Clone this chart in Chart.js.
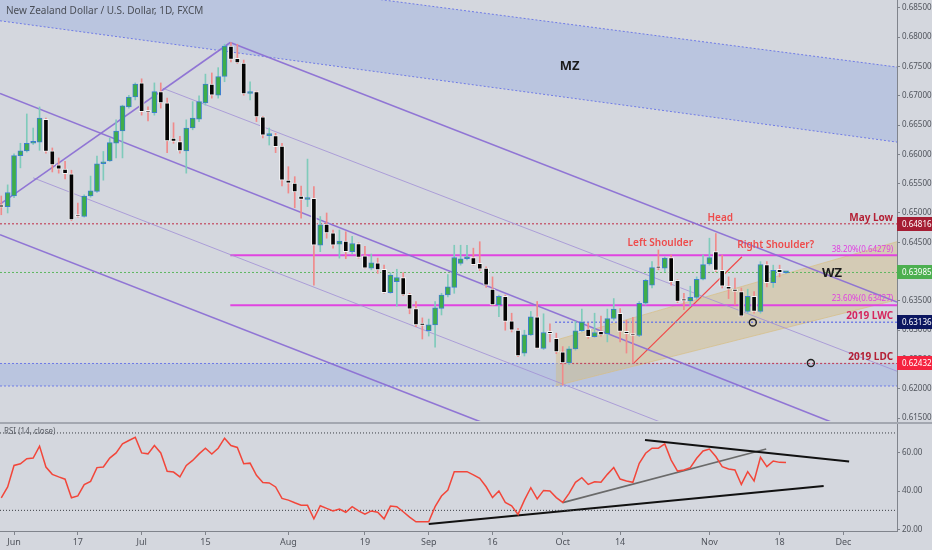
<!DOCTYPE html>
<html>
<head>
<meta charset="utf-8">
<script src="https://cdn.jsdelivr.net/npm/chart.js@4.4.1/dist/chart.umd.min.js"></script>
<style>
  html, body { margin: 0; padding: 0; background: #d4d7de; }
  #wrap { position: relative; width: 932px; height: 550px; overflow: hidden; }
  canvas { display: block; }
  #sep { height: 2px; background: #a3a7b0; }
</style>
</head>
<body>
<div id="wrap">
  <canvas id="price" width="932" height="422"></canvas>
  <div id="sep"></div>
  <canvas id="rsi" width="932" height="126"></canvas>
</div>
<script>
// NZD/USD daily, 30 May 2019 (index -2) .. 19 Nov 2019 (index 121)
const startIdx = -2;

const open = [
  0.6514, 0.6511, 0.6529, 0.6598, 0.6606, 0.6619, 0.6621, 0.6660, 0.6606, 0.6582,
  0.6575, 0.6567, 0.6497, 0.6494, 0.6529, 0.6537, 0.6584, 0.6589, 0.6619, 0.6640,
  0.6681, 0.6698, 0.6722, 0.6673, 0.6671, 0.6707, 0.6688, 0.6628, 0.6622, 0.6606,
  0.6645, 0.6660, 0.6688, 0.6720, 0.6701, 0.6733, 0.6785, 0.6764, 0.6756, 0.6704,
  0.6707, 0.6664, 0.6632, 0.6632, 0.6614, 0.6556, 0.6551, 0.6529, 0.6523, 0.6525,
  0.6445, 0.6481, 0.6466, 0.6447, 0.6452, 0.6434, 0.6448, 0.6427, 0.6406, 0.6415,
  0.6404, 0.6364, 0.6383, 0.6390, 0.6361, 0.6337, 0.6312, 0.6299, 0.6309, 0.6337,
  0.6360, 0.6373, 0.6414, 0.6422, 0.6424, 0.6414, 0.6406, 0.6370, 0.6343, 0.6358,
  0.6316, 0.6300, 0.6261, 0.6292, 0.6323, 0.6269, 0.6298, 0.6286, 0.6263, 0.6244,
  0.6268, 0.6299, 0.6302, 0.6289, 0.6298, 0.6294, 0.6320, 0.6329, 0.6298, 0.6294,
  0.6291, 0.6346, 0.6377, 0.6408, 0.6406, 0.6424, 0.6385, 0.6353, 0.6350, 0.6356,
  0.6387, 0.6413, 0.6434, 0.6402, 0.6375, 0.6370, 0.6366, 0.6332, 0.6358, 0.6332,
  0.6412, 0.6381, 0.6404, 0.6398
];
const high = [
  0.6529, 0.6548, 0.6601, 0.6619, 0.6669, 0.6645, 0.6681, 0.6662, 0.6611, 0.6594,
  0.6588, 0.6573, 0.6517, 0.6531, 0.6563, 0.6597, 0.6605, 0.6628, 0.6659, 0.6684,
  0.6701, 0.6722, 0.6729, 0.6681, 0.6722, 0.6722, 0.6696, 0.6654, 0.6631, 0.6659,
  0.6690, 0.6700, 0.6737, 0.6739, 0.6748, 0.6788, 0.6791, 0.6788, 0.6761, 0.6724,
  0.6708, 0.6665, 0.6645, 0.6636, 0.6619, 0.6579, 0.6562, 0.6546, 0.6592, 0.6545,
  0.6494, 0.6500, 0.6471, 0.6471, 0.6468, 0.6460, 0.6449, 0.6443, 0.6430, 0.6423,
  0.6411, 0.6398, 0.6404, 0.6398, 0.6363, 0.6349, 0.6321, 0.6319, 0.6349, 0.6363,
  0.6395, 0.6445, 0.6445, 0.6445, 0.6440, 0.6451, 0.6408, 0.6391, 0.6360, 0.6360,
  0.6329, 0.6303, 0.6300, 0.6332, 0.6349, 0.6328, 0.6311, 0.6295, 0.6272, 0.6272,
  0.6315, 0.6336, 0.6312, 0.6329, 0.6324, 0.6336, 0.6354, 0.6337, 0.6317, 0.6322,
  0.6349, 0.6387, 0.6417, 0.6437, 0.6425, 0.6428, 0.6386, 0.6363, 0.6375, 0.6391,
  0.6428, 0.6457, 0.6465, 0.6428, 0.6391, 0.6389, 0.6372, 0.6370, 0.6366, 0.6417,
  0.6417, 0.6411, 0.6411, 0.6400
];
const low = [
  0.6497, 0.6500, 0.6526, 0.6577, 0.6604, 0.6617, 0.6607, 0.6602, 0.6570, 0.6568,
  0.6558, 0.6487, 0.6493, 0.6493, 0.6527, 0.6535, 0.6556, 0.6588, 0.6594, 0.6594,
  0.6679, 0.6693, 0.6667, 0.6657, 0.6667, 0.6679, 0.6603, 0.6619, 0.6602, 0.6568,
  0.6642, 0.6656, 0.6684, 0.6696, 0.6696, 0.6724, 0.6758, 0.6755, 0.6701, 0.6693,
  0.6656, 0.6628, 0.6616, 0.6603, 0.6546, 0.6534, 0.6509, 0.6491, 0.6511, 0.6377,
  0.6434, 0.6457, 0.6440, 0.6423, 0.6422, 0.6430, 0.6423, 0.6406, 0.6403, 0.6397,
  0.6363, 0.6363, 0.6341, 0.6359, 0.6328, 0.6306, 0.6285, 0.6290, 0.6271, 0.6326,
  0.6357, 0.6363, 0.6411, 0.6420, 0.6411, 0.6402, 0.6373, 0.6342, 0.6323, 0.6300,
  0.6297, 0.6255, 0.6256, 0.6291, 0.6269, 0.6267, 0.6280, 0.6260, 0.6206, 0.6241,
  0.6266, 0.6298, 0.6286, 0.6288, 0.6290, 0.6280, 0.6317, 0.6280, 0.6261, 0.6244,
  0.6289, 0.6343, 0.6372, 0.6403, 0.6400, 0.6377, 0.6347, 0.6335, 0.6341, 0.6353,
  0.6386, 0.6411, 0.6400, 0.6372, 0.6354, 0.6343, 0.6323, 0.6329, 0.6329, 0.6329,
  0.6374, 0.6373, 0.6391, 0.6397
];
const close = [
  0.6510, 0.6535, 0.6598, 0.6606, 0.6619, 0.6620, 0.6662, 0.6605, 0.6582, 0.6575,
  0.6567, 0.6488, 0.6494, 0.6529, 0.6538, 0.6584, 0.6586, 0.6620, 0.6640, 0.6683,
  0.6698, 0.6720, 0.6673, 0.6672, 0.6707, 0.6688, 0.6623, 0.6622, 0.6606, 0.6645,
  0.6662, 0.6690, 0.6720, 0.6701, 0.6733, 0.6785, 0.6762, 0.6756, 0.6703, 0.6706,
  0.6664, 0.6633, 0.6633, 0.6613, 0.6556, 0.6551, 0.6536, 0.6523, 0.6525, 0.6445,
  0.6480, 0.6466, 0.6445, 0.6452, 0.6434, 0.6448, 0.6424, 0.6406, 0.6415, 0.6403,
  0.6364, 0.6394, 0.6390, 0.6360, 0.6336, 0.6309, 0.6308, 0.6309, 0.6338, 0.6360,
  0.6374, 0.6424, 0.6422, 0.6423, 0.6412, 0.6404, 0.6377, 0.6343, 0.6358, 0.6315,
  0.6300, 0.6256, 0.6292, 0.6323, 0.6269, 0.6296, 0.6294, 0.6263, 0.6244, 0.6268,
  0.6299, 0.6314, 0.6289, 0.6296, 0.6292, 0.6320, 0.6336, 0.6298, 0.6294, 0.6291,
  0.6346, 0.6385, 0.6407, 0.6406, 0.6423, 0.6383, 0.6349, 0.6350, 0.6356, 0.6387,
  0.6412, 0.6424, 0.6402, 0.6375, 0.6370, 0.6366, 0.6324, 0.6358, 0.6332, 0.6412,
  0.6381, 0.6402, 0.6398, 0.63985
];
const rsi = [
  36.5, 42.1, 53.2, 54.1, 56.7, 57.0, 63.2, 52.4, 48.6, 47.3,
  46.1, 36.5, 37.5, 43.3, 45.0, 52.1, 52.4, 57.0, 59.7, 64.4,
  66.1, 67.8, 59.7, 59.2, 63.5, 59.7, 50.2, 49.8, 47.3, 53.2,
  55.8, 59.2, 62.1, 59.1, 62.1, 67.3, 63.5, 62.5, 54.1, 54.4,
  48.1, 44.4, 44.2, 42.1, 36.2, 35.3, 33.9, 32.7, 32.6, 25.6,
  32.4, 31.0, 29.7, 30.7, 29.0, 31.9, 29.7, 28.0, 29.7, 29.0,
  25.6, 32.2, 31.9, 29.3, 26.5, 24.1, 24.1, 24.1, 31.9, 37.4,
  40.5, 50.0, 50.0, 50.0, 48.3, 46.6, 42.2, 36.6, 40.0, 34.1,
  32.4, 27.9, 35.3, 41.7, 35.9, 40.3, 40.0, 36.6, 34.1, 38.8,
  44.5, 46.9, 43.4, 44.8, 44.5, 48.6, 52.1, 46.2, 45.2, 44.5,
  54.3, 59.5, 62.1, 62.1, 64.3, 56.0, 50.3, 50.9, 52.1, 56.9,
  60.7, 61.7, 57.8, 52.6, 51.4, 50.9, 43.4, 50.0, 45.2, 57.4,
  52.6, 55.5, 54.8, 54.7
];

// x axis: trading-day index (0 = 3 Jun)
const tickPos  = [0, 10, 20, 30, 43, 55, 65, 75, 86, 95, 109, 120, 130];
const tickText = ['Jun', '17', 'Jul', '15', 'Aug', '19', 'Sep', '16', 'Oct', '14', 'Nov', '18', 'Dec'];
const priceTicks = [0.615, 0.620, 0.625, 0.630, 0.635, 0.640, 0.645, 0.650,
                    0.655, 0.660, 0.665, 0.670, 0.675, 0.680, 0.685];
const rsiTicks = [20, 40, 60];

// drawings, as [index, price] end points
const mzUpper   = [[-2.2, 0.6949], [138.4, 0.6749]];
const mzLower   = [[-2.2, 0.6828], [138.4, 0.6621]];
const wzUpper   = [[84.9, 0.6283], [138.4, 0.6451]];
const wzLower   = [[84.9, 0.6205], [138.4, 0.6352]];
const riseLine  = [[-2.2, 0.6515], [33.9, 0.6791]];
const fallLine  = [[33.9, 0.6791], [138.4, 0.6348]];
const chanThin1 = [[23.3, 0.6713], [138.4, 0.6230]];
const chanMid   = [[-2.2, 0.6704], [138.4, 0.6099]];
const chanThin2 = [[3.0, 0.6560], [138.4, 0.5986]];
const chanLow   = [[-2.2, 0.6463], [138.4, 0.5867]];
const abLine    = [[97.1, 0.62435], [114.1, 0.64254]];
const rsiRise   = [[65, 22.9], [126.9, 42.6]];
const rsiFall   = [[98.9, 66.4], [130.9, 55.2]];
const rsiInner  = [[86, 34.0], [117.9, 61.7]];

const mayLow = 0.64816, fib382 = 0.64279, fib236 = 0.63427;
const lwc2019 = 0.63136, ldc2019 = 0.62432, ldcLow = 0.62048, lastPrice = 0.63985;

const circleIdx   = [115.8, 124.9];
const circlePrice = [0.63131, 0.62440];

const noteText  = ['MZ', 'WZ', 'Head', 'Left Shoulder', 'Right Shoulder?', 'May Low',
                   '38.20%(0.64279)', '23.60%(0.63427)', '2019 LWC', '2019 LDC'];
const noteIdx   = [87.1, 128.2, 110.7, 101.3, 119.4, 137.8, 137.8, 137.8, 137.8, 137.8];
const notePrice = [0.67509, 0.63976, 0.64915, 0.64488, 0.64454, 0.64915, 0.64369, 0.63532, 0.63242, 0.62543];
const noteKind  = ['big', 'big', 'red', 'red', 'red', 'level', 'fib', 'fib', 'lwc', 'level'];

const levelPrice = [mayLow, lastPrice, lwc2019, ldc2019];
const levelFill  = ['#a51d33', '#4caf50', '#0b1660', '#f5233f'];

const FONT = '"Noto Sans", "DejaVu Sans", sans-serif';
const xMin = -2.2, xMax = 138.4;

const idx = open.map((_, k) => startIdx + k);
const up = close.map((c, k) => c >= open[k]);

function seg(points) {
  return points.map(p => ({ x: p[0], y: p[1] }));
}
function hline(v, from) {
  return [{ x: from, y: v }, { x: xMax, y: v }];
}
function lineSet(data, color, width, dash, extra) {
  return Object.assign({
    type: 'line', data: data, borderColor: color, borderWidth: width,
    borderDash: dash || [], pointRadius: 0, fill: false, tension: 0, order: 5
  }, extra || {});
}
// no automatic label padding: the plot must fill the canvas edge to edge
function noPad(s) {
  s.paddingTop = 0; s.paddingBottom = 0; s.paddingLeft = 0; s.paddingRight = 0;
}

const purpleThick = 'rgba(140,112,212,0.95)';
const purpleThin = 'rgba(160,142,214,0.8)';
const blueDot = '#6e7ae6';
const redDot = '#c4485e';
const zoneBlue = 'rgba(140,165,225,0.36)';

const priceOverlay = {
  id: 'priceOverlay',
  afterDatasetsDraw(chart) {
    const { ctx, scales: { x, y } } = chart;
    ctx.save();
    ctx.font = '10px ' + FONT;
    ctx.fillStyle = '#4a4e57';
    ctx.textAlign = 'left';
    ctx.textBaseline = 'middle';
    ctx.fillText('New Zealand Dollar / U.S. Dollar, 1D, FXCM', 6, 11);

    ctx.strokeStyle = '#222';
    ctx.lineWidth = 1.4;
    circleIdx.forEach((v, k) => {
      ctx.beginPath();
      ctx.arc(x.getPixelForValue(v), y.getPixelForValue(circlePrice[k]), 3.5, 0, Math.PI * 2);
      ctx.stroke();
    });

    noteText.forEach((t, k) => {
      const px = x.getPixelForValue(noteIdx[k]);
      const py = y.getPixelForValue(notePrice[k]);
      const kind = noteKind[k];
      ctx.textAlign = 'center';
      if (kind === 'big') {
        ctx.font = 'bold 13px ' + FONT;
        ctx.fillStyle = '#1b1b1b';
      } else if (kind === 'red') {
        ctx.font = '600 10px ' + FONT;
        ctx.fillStyle = '#ee4b4b';
      } else if (kind === 'fib') {
        ctx.font = '8px ' + FONT;
        ctx.fillStyle = '#e040e0';
        ctx.textAlign = 'right';
      } else if (kind === 'lwc') {
        ctx.font = 'bold 10px ' + FONT;
        ctx.fillStyle = '#d6265e';
        ctx.textAlign = 'right';
      } else {
        ctx.font = 'bold 10px ' + FONT;
        ctx.fillStyle = '#b42035';
        ctx.textAlign = 'right';
      }
      ctx.fillText(t, px, py);
    });

    const left = chart.chartArea.right;
    ctx.font = '8px ' + FONT;
    ctx.textAlign = 'left';
    levelPrice.forEach((v, k) => {
      const py = Math.round(y.getPixelForValue(v));
      ctx.fillStyle = levelFill[k];
      ctx.fillRect(left, py - 7, 932 - left, 14);
      ctx.fillStyle = '#ffffff';
      ctx.fillText(v.toFixed(5), left + 5, py + 0.5);
    });
    ctx.restore();
  }
};

const priceChart = new Chart(document.getElementById('price'), {
  type: 'bar',
  data: {
    datasets: [
      lineSet(seg(mzUpper), blueDot, 1, [2, 2], { order: 20 }),
      lineSet(seg(mzLower), blueDot, 1, [2, 2], { order: 20, fill: '-1', backgroundColor: zoneBlue }),
      lineSet(hline(ldc2019, xMin), blueDot, 1, [2, 2], { order: 20 }),
      lineSet(hline(ldcLow, xMin), blueDot, 1, [2, 2], { order: 20, fill: '-1', backgroundColor: zoneBlue }),
      lineSet(seg(wzUpper), 'rgba(215,190,130,0.7)', 1, [], { order: 19 }),
      lineSet(seg(wzLower), 'rgba(215,190,130,0.7)', 1, [], { order: 19, fill: '-1', backgroundColor: 'rgba(212,185,120,0.4)' }),
      lineSet(seg(riseLine), purpleThick, 1.6),
      lineSet(seg(fallLine), purpleThick, 1.6),
      lineSet(seg(chanMid), purpleThick, 1.6),
      lineSet(seg(chanLow), purpleThick, 1.6),
      lineSet(seg(chanThin1), purpleThin, 1),
      lineSet(seg(chanThin2), purpleThin, 1),
      lineSet(hline(mayLow, xMin), redDot, 1.2, [2, 2]),
      lineSet(hline(lastPrice, xMin), '#5fb760', 1, [2, 2]),
      lineSet(hline(fib382, 33.9), '#e044e0', 2),
      lineSet(hline(fib236, 33.9), '#e044e0', 2),
      lineSet(hline(lwc2019, 84.8), blueDot, 1.4, [2, 2]),
      lineSet(hline(ldc2019, 85.6), redDot, 1.2, [2, 2]),
      lineSet(seg(abLine), '#f04a4a', 1.2),
      {
        type: 'bar', grouped: false, order: 1, barThickness: 1,
        data: idx.map((v, k) => ({ x: v, y: [low[k], high[k]] })),
        backgroundColor: up.map(u => u ? '#7fcbbb' : '#f08a8a')
      },
      {
        type: 'bar', grouped: false, order: 0, barThickness: 5, minBarLength: 2,
        data: idx.map((v, k) => ({ x: v, y: [open[k], close[k]] })),
        backgroundColor: up.map(u => u ? '#3fae49' : '#050505'),
        borderColor: up.map(u => u ? '#3d7fd1' : '#f4f4f4'),
        borderWidth: 1, borderSkipped: false
      }
    ]
  },
  options: {
    responsive: false,
    animation: false,
    events: [],
    layout: { padding: { bottom: 1 }, autoPadding: false },
    plugins: { legend: { display: false }, tooltip: { enabled: false } },
    scales: {
      x: {
        type: 'linear', min: xMin, max: xMax, offset: false, display: false
      },
      y: {
        type: 'linear', position: 'right', min: 0.614505, max: 0.686348, beginAtZero: false,
        afterFit: s => { s.width = 35; noPad(s); },
        afterBuildTicks: s => { s.ticks = priceTicks.map(v => ({ value: v })); },
        grid: { drawOnChartArea: false, drawTicks: true, tickLength: 3, color: '#80848c' },
        border: { display: true, color: '#80848c', width: 1 },
        ticks: {
          padding: 2, color: '#50545c', font: { size: 8, family: FONT },
          callback: v => v.toFixed(5)
        }
      }
    }
  },
  plugins: [priceOverlay]
});

const rsiOverlay = {
  id: 'rsiOverlay',
  afterDatasetsDraw(chart) {
    const { ctx } = chart;
    ctx.save();
    ctx.font = '8px ' + FONT;
    ctx.fillStyle = '#5a5e66';
    ctx.textAlign = 'left';
    ctx.textBaseline = 'middle';
    ctx.fillText('RSI (14, close)', 4, 8);
    ctx.restore();
  }
};

const rsiChart = new Chart(document.getElementById('rsi'), {
  type: 'line',
  data: {
    datasets: [
      lineSet(hline(70, xMin), '#3c3f45', 1, [1, 2]),
      lineSet(hline(30, xMin), '#3c3f45', 1, [1, 2]),
      lineSet(seg(rsiRise), '#111111', 2),
      lineSet(seg(rsiFall), '#111111', 2),
      lineSet(seg(rsiInner), '#6a6a6a', 1.6),
      lineSet(idx.map((v, k) => ({ x: v, y: rsi[k] })), '#f2463a', 1.5, [], { order: 1 })
    ]
  },
  options: {
    responsive: false,
    animation: false,
    events: [],
    layout: { padding: 0, autoPadding: false },
    plugins: { legend: { display: false }, tooltip: { enabled: false } },
    scales: {
      x: {
        type: 'linear', min: xMin, max: xMax, offset: false,
        afterFit: s => { s.height = 19; noPad(s); },
        afterBuildTicks: s => { s.ticks = tickPos.map(v => ({ value: v })); },
        grid: { drawOnChartArea: false, drawTicks: true, tickLength: 4, color: '#80848c' },
        border: { display: true, color: '#80848c', width: 1 },
        ticks: {
          autoSkip: false, maxRotation: 0, padding: 2, color: '#50545c',
          font: { size: 9, family: FONT },
          callback: v => tickText[tickPos.indexOf(v)]
        }
      },
      y: {
        type: 'linear', position: 'right', min: 19.33, max: 74.63,
        afterFit: s => { s.width = 35; noPad(s); },
        afterBuildTicks: s => { s.ticks = rsiTicks.map(v => ({ value: v })); },
        grid: { drawOnChartArea: false, drawTicks: true, tickLength: 3, color: '#80848c' },
        border: { display: true, color: '#80848c', width: 1 },
        ticks: {
          padding: 2, color: '#50545c', font: { size: 8, family: FONT },
          callback: v => v.toFixed(2)
        }
      }
    }
  },
  plugins: [rsiOverlay]
});
</script>
</body>
</html>
